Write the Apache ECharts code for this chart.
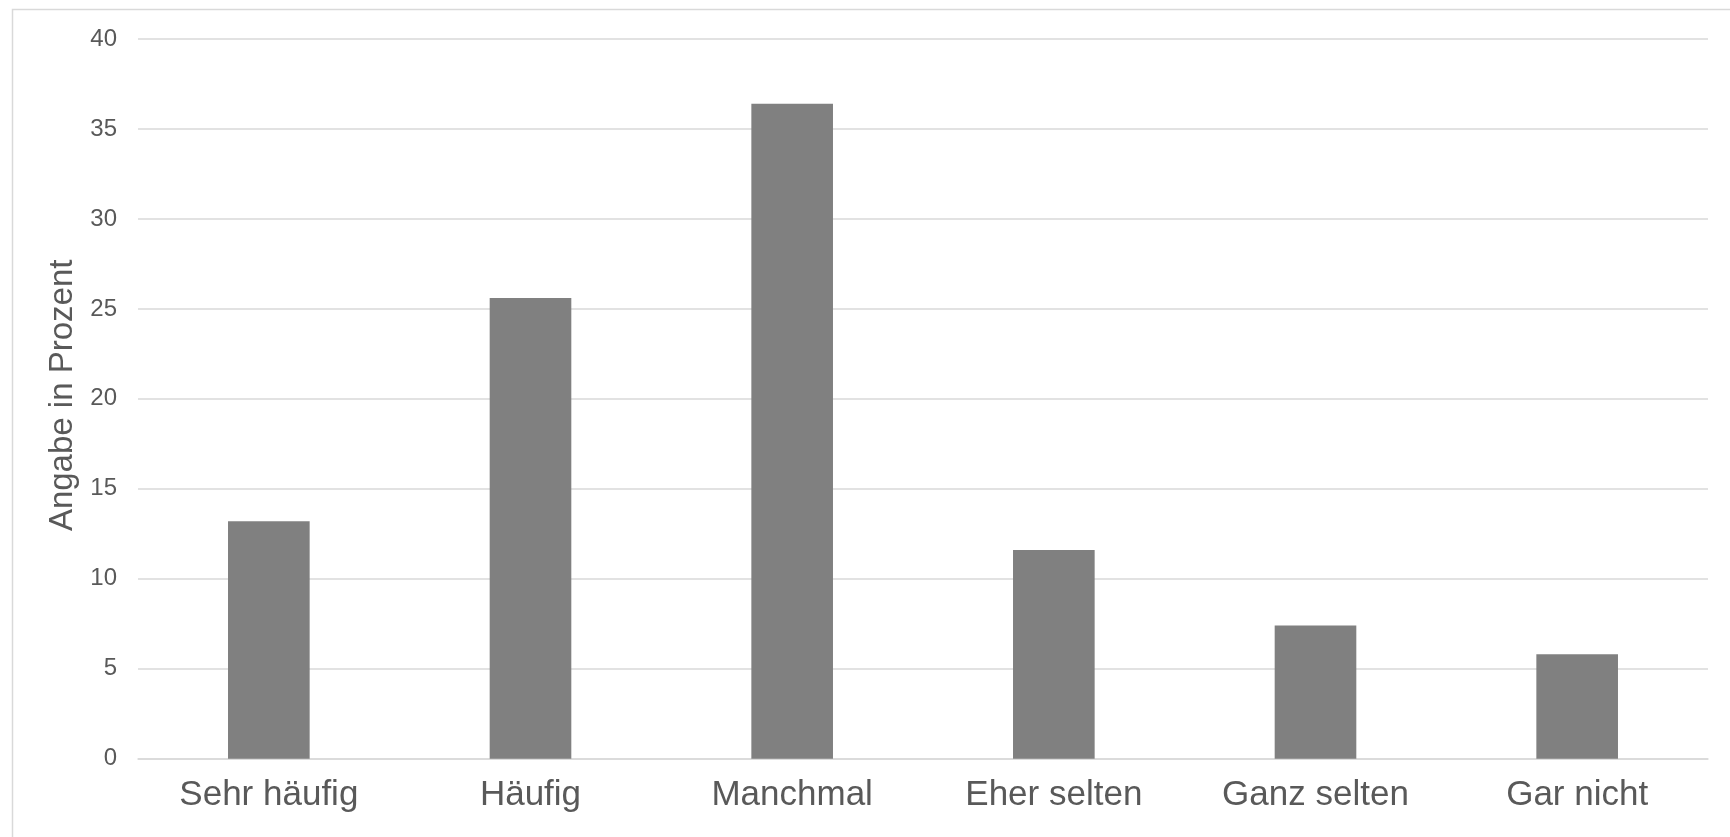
<!DOCTYPE html>
<html>
<head>
<meta charset="utf-8">
<script src="https://cdn.jsdelivr.net/npm/echarts@6/dist/echarts.min.js"></script>
<style>
html,body{margin:0;padding:0;background:#fff;}
#chart{width:1730px;height:837px;}
</style>
</head>
<body>
<div id="chart"></div>
<script>
const categories = ['Sehr häufig', 'Häufig', 'Manchmal', 'Eher selten', 'Ganz selten', 'Gar nicht'];
const values = [13.2, 25.6, 36.4, 11.6, 7.4, 5.8];
const yAxisTitle = 'Angabe in Prozent';

const chart = echarts.init(document.getElementById('chart'), null, {renderer: 'canvas'});
const FONT = '"Liberation Sans", Arial, sans-serif';
chart.setOption({
  animation: false,
  backgroundColor: '#ffffff',
  graphic: [{
    type: 'rect',
    shape: {x: 12.5, y: 9.5, width: 1800, height: 900},
    style: {fill: 'none', stroke: '#d9d9d9', lineWidth: 1.5},
    silent: true
  }],
  grid: {left: 138, right: 22, top: 39, bottom: 78.3, containLabel: false},
  xAxis: {
    type: 'category',
    data: categories,
    axisLine: {show: true, lineStyle: {color: '#d9d9d9', width: 1.5}},
    axisTick: {show: false},
    axisLabel: {color: '#595959', fontSize: 35, fontFamily: FONT, margin: 19},
    splitLine: {show: false}
  },
  yAxis: {
    type: 'value',
    min: 0,
    max: 40,
    interval: 5,
    name: yAxisTitle,
    nameLocation: 'middle',
    nameGap: 49,
    nameTextStyle: {color: '#595959', fontSize: 33, fontFamily: FONT, padding: [0, 0, 0, 7]},
    axisLine: {show: false},
    axisTick: {show: false},
    axisLabel: {color: '#595959', fontSize: 24, fontFamily: FONT, margin: 21},
    splitLine: {show: true, lineStyle: {color: '#d9d9d9', width: 1.5}}
  },
  series: [{
    type: 'bar',
    data: values,
    barWidth: '31.2%',
    itemStyle: {color: '#808080'}
  }]
});
</script>
</body>
</html>
